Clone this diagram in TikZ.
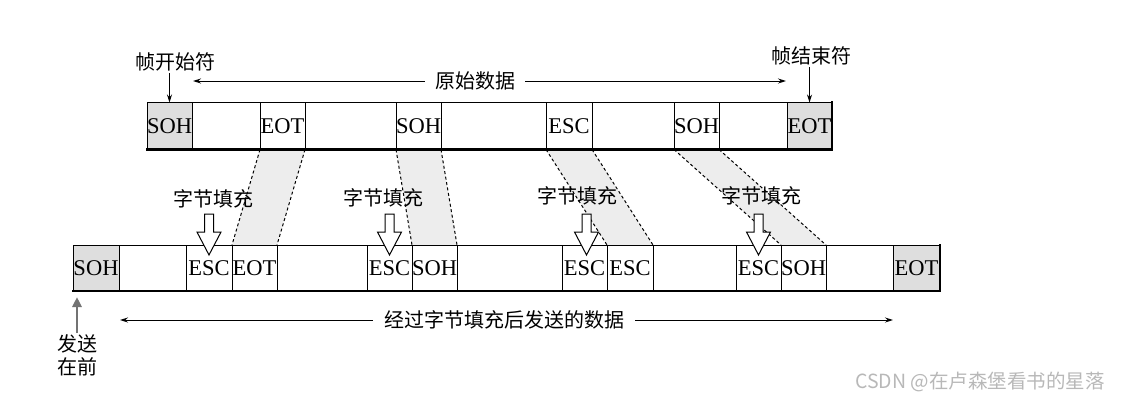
\documentclass[tikz,border=0pt]{standalone}
\usepackage{fontspec}
\setmainfont{Liberation Serif}
\newfontfamily\cjk{Noto Sans CJK SC}
\usetikzlibrary{positioning,arrows.meta,backgrounds}

\newcommand\cellfont{\fontsize{22.5}{25}\selectfont}
\newcommand\cnfont{\cjk\fontsize{20}{23}\selectfont}

\tikzset{
  cell/.style={draw, line width=1pt, inner sep=0pt, outer sep=0pt,
    minimum height=47pt, anchor=west, font=\cellfont},
  headcell/.style={cell, fill=black!13},
  cntext/.style={font=\cnfont, inner sep=2pt},
  thinarrow/.style={line width=1pt, -{Stealth[length=8pt,width=5pt]}},
  seam/.style={line width=1pt, dash pattern=on 3pt off 2.5pt},
  shadebox/.style={fill=black!7},
  rowedge/.style={line width=2.2pt, line cap=rect},
  padarrow/.pic={
    \draw[line width=1pt, fill=white] (-4.5,0) -- (4.5,0) -- (4.5,18) -- (12,18)
      -- (0,41) -- (-12,18) -- (-4.5,18) -- cycle;
  }
}

\begin{document}
\begin{tikzpicture}[x=1pt, y=-1pt]
\useasboundingbox (0,0) rectangle (1124,402);

% original frame
\node[headcell, minimum width=45pt] (t1) at (147,126) {SOH};
\node[cell, minimum width=68pt, right=0pt of t1] (t2) {};
\node[cell, minimum width=45pt, right=0pt of t2] (t3) {EOT};
\node[cell, minimum width=91pt, right=0pt of t3] (t4) {};
\node[cell, minimum width=45pt, right=0pt of t4] (t5) {SOH};
\node[cell, minimum width=105pt, right=0pt of t5] (t6) {};
\node[cell, minimum width=46pt, right=0pt of t6] (t7) {ESC};
\node[cell, minimum width=82pt, right=0pt of t7] (t8) {};
\node[cell, minimum width=45pt, right=0pt of t8] (t9) {SOH};
\node[cell, minimum width=68pt, right=0pt of t9] (t10) {};
\node[headcell, minimum width=45pt, right=0pt of t10] (t11) {EOT};
\draw[rowedge] (t1.south west) -- (t11.south east) -- (t11.north east);

% stuffed frame
\node[headcell, minimum width=46pt, minimum height=46pt] (b1) at (73,268) {SOH};
\node[cell, minimum width=67pt, minimum height=46pt, right=0pt of b1] (b2) {};
\node[cell, minimum width=46pt, minimum height=46pt, right=0pt of b2] (b3) {ESC};
\node[cell, minimum width=45pt, minimum height=46pt, right=0pt of b3] (b4) {EOT};
\node[cell, minimum width=90pt, minimum height=46pt, right=0pt of b4] (b5) {};
\node[cell, minimum width=45pt, minimum height=46pt, right=0pt of b5] (b6) {ESC};
\node[cell, minimum width=45pt, minimum height=46pt, right=0pt of b6] (b7) {SOH};
\node[cell, minimum width=105pt, minimum height=46pt, right=0pt of b7] (b8) {};
\node[cell, minimum width=45pt, minimum height=46pt, right=0pt of b8] (b9) {ESC};
\node[cell, minimum width=46pt, minimum height=46pt, right=0pt of b9] (b10) {ESC};
\node[cell, minimum width=83pt, minimum height=46pt, right=0pt of b10] (b11) {};
\node[cell, minimum width=45pt, minimum height=46pt, right=0pt of b11] (b12) {ESC};
\node[cell, minimum width=45pt, minimum height=46pt, right=0pt of b12] (b13) {SOH};
\node[cell, minimum width=67pt, minimum height=46pt, right=0pt of b13] (b14) {};
\node[headcell, minimum width=47pt, minimum height=46pt, right=0pt of b14] (b15) {EOT};
\draw[rowedge] (b1.south west) -- (b15.south east) -- (b15.north east);

% shaded seams between the frames
\begin{scope}[on background layer]
\fill[shadebox] (t3.south west) -- (t3.south east) -- (b4.north east) -- (b4.north west) -- cycle;
\fill[shadebox] (t5.south west) -- (t5.south east) -- (b7.north east) -- (b7.north west) -- cycle;
\fill[shadebox] (t7.south west) -- (t7.south east) -- (b10.north east) -- (b10.north west) -- cycle;
\fill[shadebox] (t9.south west) -- (t9.south east) -- (b13.north east) -- (b13.north west) -- cycle;
\end{scope}
\draw[seam] (t3.south west) -- (b4.north west);
\draw[seam] (t3.south east) -- (b4.north east);
\draw[seam] (t5.south west) -- (b7.north west);
\draw[seam] (t5.south east) -- (b7.north east);
\draw[seam] (t7.south west) -- (b10.north west);
\draw[seam] (t7.south east) -- (b10.north east);
\draw[seam] (t9.south west) -- (b13.north west);
\draw[seam] (t9.south east) -- (b13.north east);

% byte stuffing
\node[cntext] (st1) at (213,199) {字节填充};
\node[cntext] (st2) at (383,198) {字节填充};
\node[cntext] (st3) at (577,196) {字节填充};
\node[cntext] (st4) at (761,196) {字节填充};
\pic at ([yshift=31pt]b3.north) {padarrow};
\pic at ([yshift=31pt]b6.north) {padarrow};
\pic at ([yshift=31pt, xshift=2pt]b9.north) {padarrow};
\pic at ([yshift=31pt]b12.north) {padarrow};

% top labels
\node[cntext] (fstart) at (175,62) {帧开始符};
\node[cntext] (fend) at (811,56) {帧结束符};
\draw[thinarrow] (fstart.south -| t1.north) -- (t1.north);
\draw[thinarrow] (fend.south -| t11.north) -- (t11.north);

\node[cntext, inner sep=10pt] (orig) at (475,81) {原始数据};
\coordinate (origL) at (193,81);
\coordinate (origR) at (786,81);
\draw[thinarrow] (orig.west) -- (origL);
\draw[thinarrow] (orig.east) -- (origR);

% bottom labels
\node[cntext, inner sep=11pt] (sent) at (504,320) {经过字节填充后发送的数据};
\coordinate (sentL) at (120,320);
\coordinate (sentR) at (893,320);
\draw[thinarrow] (sent.west) -- (sentL);
\draw[thinarrow] (sent.east) -- (sentR);

\node[cntext, align=center, inner sep=1pt] (first) at (77,355) {发送\\在前};
\draw[line width=2.5pt, black!55, -{Triangle[length=10pt,width=9pt]}, shorten >=6pt]
  (first.north) -- (first.north |- b1.south);

\node[font=\cjk\fontsize{19.5}{22}\selectfont, text=black!28] (mark) at (980,382) {CSDN @在卢森堡看书的星落};
\end{tikzpicture}
\end{document}
